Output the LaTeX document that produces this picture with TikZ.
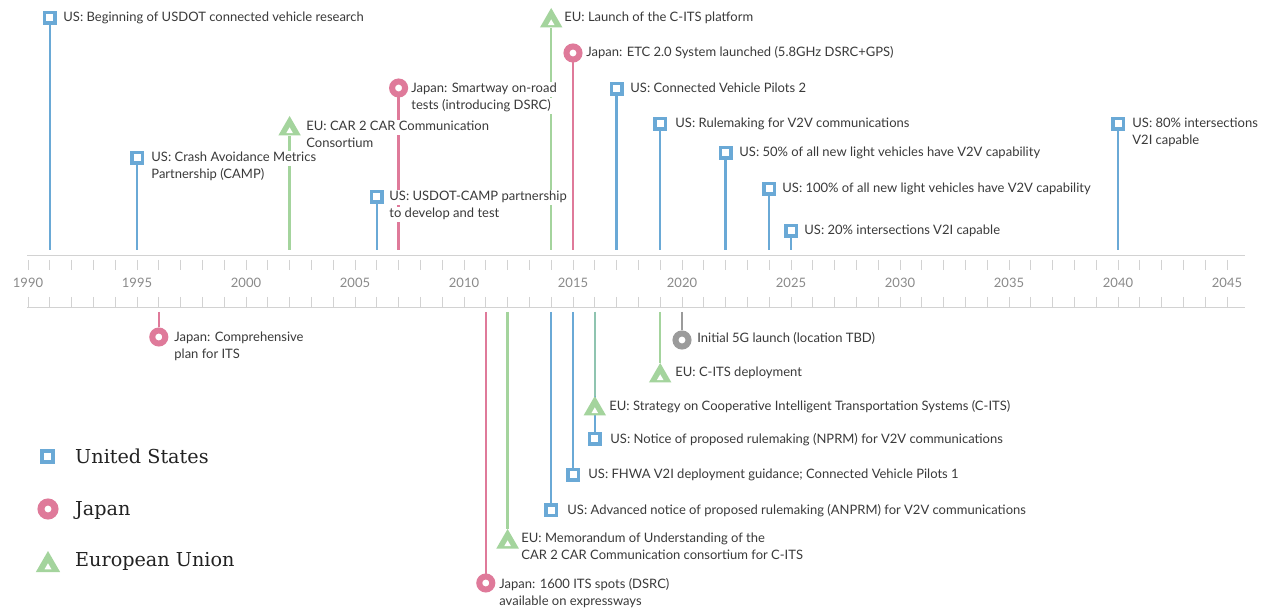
\documentclass[tikz,border=0pt]{standalone}
\usepackage{fontspec}
\setmainfont{Lato}
\newfontfamily\legendfont{DejaVu Serif}
\usetikzlibrary{shapes.geometric}
\pgfdeclarelayer{background}
\pgfdeclarelayer{paper}
\pgfsetlayers{paper,background,main}
\definecolor{usblue}{HTML}{6AA9D6}
\definecolor{jppink}{HTML}{DF7A9A}
\definecolor{eugreen}{HTML}{A4D49D}
\definecolor{fivegray}{HTML}{9B9B9B}
\definecolor{axisgray}{HTML}{D2D2D2}
\definecolor{yeargray}{HTML}{8A8A8A}
\definecolor{txt}{HTML}{3A3A3A}
\definecolor{legtxt}{HTML}{222222}
\newcommand\hl[1]{{\setlength\fboxsep{1.2pt}\colorbox{white}{\rule[-3.5pt]{0pt}{11pt}#1}}}
\tikzset{
  usmark/.style={rectangle, draw=usblue, line width=3.5pt, minimum size=10.5pt, inner sep=0pt, fill=white},
  jpmark/.style={circle, draw=jppink, line width=6pt, minimum size=13pt, inner sep=0pt, fill=white},
  gymark/.style={jpmark, draw=fivegray},
  eumark/.style={regular polygon, regular polygon sides=3, fill=eugreen, minimum size=26pt, inner sep=0pt,
    path picture={\fill[white] ([yshift=-5.4pt]path picture bounding box.center) +(0pt,3.8pt) -- +(-3.3pt,-1.9pt) -- +(3.3pt,-1.9pt) -- cycle;}},
  stem/.style={line width=2.5pt},
  lbl/.style={anchor=north west, inner sep=0pt, align=left, text=txt, font=\fontsize{13}{17}\selectfont},
  yr/.style={anchor=base, text=yeargray, font=\fontsize{13}{15}\selectfont},
  axline/.style={draw=axisgray, line width=1pt},
  leg/.style={anchor=base west, inner sep=0pt, text=legtxt, font=\legendfont\fontsize{19.2}{22}\selectfont},
}
\begin{document}
\begin{tikzpicture}[x=1pt,y=-1pt]
\begin{pgfonlayer}{paper}
\fill[white] (0,0) rectangle (1267,609);
\end{pgfonlayer}
\useasboundingbox (0,0) rectangle (1267,609);

% axis
\coordinate (axL) at (27,256);
\coordinate (axR) at (1245,256);
\coordinate (bxL) at (27,308);
\coordinate (bxR) at (1245,308);
\draw[axline] (axL) -- (axR);
\draw[axline] (bxL) -- (bxR);
\foreach \i in {0,...,55} {
  \draw[axisgray, line width=0.9pt] ({28+\i*21.8},260) -- ({28+\i*21.8},270);
  \draw[axisgray, line width=0.9pt] ({28+\i*21.8},297) -- ({28+\i*21.8},307);
}
\foreach \y [count=\k from 0] in {1990,1995,2000,2005,2010,2015,2020,2025,2030,2035,2040,2045}
  \node[yr] (yr\y) at ({28+\k*109},288) {\y};

% upper markers
\node[usmark] (u91) at (49.8,18) {};
\node[usmark] (u95) at (137,158) {};
\node[eumark] (e02) at (289.6,129) {};
\node[usmark] (u06) at (376.8,197) {};
\node[jpmark] (j07) at (398.6,88) {};
\node[eumark] (e14) at (551.2,21) {};
\node[jpmark] (j15) at (573,53) {};
\node[usmark] (u17) at (616.6,89) {};
\node[usmark] (u19) at (660.2,124) {};
\node[usmark] (u22) at (725.6,153) {};
\node[usmark] (u24) at (769.2,189) {};
\node[usmark] (u25) at (791,231) {};
\node[usmark] (u40) at (1118,124) {};

% lower markers
\node[jpmark] (j96) at (158.8,337) {};
\node[jpmark] (j11) at (485.8,583) {};
\node[eumark] (e12) at (507.6,542) {};
\node[usmark] (u14) at (551.2,510) {};
\node[usmark] (u15) at (573,475) {};
\node[usmark] (u16) at (594.8,439) {};
\node[eumark] (e16) at (594.8,409) {};
\node[eumark] (e19) at (660.2,376) {};
\node[gymark] (g20) at (682,340) {};

% stem ends
\foreach \n/\x in {u91/49.8,u95/137,e02/289.6,u06/376.8,j07/398.6,e14/551.2,j15/573,u17/616.6,u19/660.2,u22/725.6,u24/769.2,u25/791,u40/1118}
  \coordinate (\n a) at (\x,250);
\foreach \n/\x in {j96/158.8,j11/485.8,e12/507.6,u14/551.2,u15/573,u16/594.8,e16/594.8,e19/660.2,g20/682}
  \coordinate (\n a) at (\x,312);

\begin{pgfonlayer}{background}
\foreach \n in {u91,u95,u06,u17,u19,u22,u24,u25,u40,u14,u15,u16}
  \draw[stem, usblue] (\n a) -- (\n);
\foreach \n in {j07,j15,j96,j11}
  \draw[stem, jppink] (\n a) -- (\n);
\foreach \n in {e02,e14,e12,e19}
  \draw[stem, eugreen] (\n a) -- (\n);
\draw[stem, eugreen, opacity=0.65] (e16a) -- (e16);
\draw[stem, fivegray] (g20a) -- (g20);
\end{pgfonlayer}

% labels (upper)
\node[lbl] (l91) at (62,10.5) {\hl{US: Beginning of USDOT connected vehicle research}};
\node[lbl] (l95) at (150,150.5) {\hl{US: Crash Avoidance Metrics}\\\hl{Partnership (CAMP)}};
\node[lbl] (l02) at (305,119.5) {\hl{EU: CAR 2 CAR Communication}\\\hl{Consortium}};
\node[lbl] (l06) at (388,189.5) {\hl{US: USDOT-CAMP partnership}\\\hl{to develop and test}};
\node[lbl] (l07) at (410,81.5) {\hl{Japan: Smartway on-road}\\\hl{tests (introducing DSRC)}};
\node[lbl] (l14) at (563,10.5) {\hl{EU: Launch of the C-ITS platform}};
\node[lbl] (l15) at (585,45.5) {\hl{Japan: ETC 2.0 System launched (5.8GHz DSRC+GPS)}};
\node[lbl] (l17) at (629,81.5) {\hl{US: Connected Vehicle Pilots 2}};
\node[lbl] (l19) at (674,116.5) {\hl{US: Rulemaking for V2V communications}};
\node[lbl] (l22) at (738,145.5) {\hl{US: 50\% of all new light vehicles have V2V capability}};
\node[lbl] (l24) at (781,181.5) {\hl{US: 100\% of all new light vehicles have V2V capability}};
\node[lbl] (l25) at (803,223.5) {\hl{US: 20\% intersections V2I capable}};
\node[lbl] (l40) at (1131,116.5) {\hl{US: 80\% intersections}\\\hl{V2I capable}};

% labels (lower)
\node[lbl] (l96) at (173,330.5) {\hl{Japan: Comprehensive}\\\hl{plan for ITS}};
\node[lbl] (l11) at (498,577.5) {\hl{Japan: 1600 ITS spots (DSRC)}\\\hl{available on expressways}};
\node[lbl] (l12) at (520,531.5) {\hl{EU: Memorandum of Understanding of the}\\\hl{CAR 2 CAR Communication consortium for C-ITS}};
\node[lbl] (l14b) at (566,503.5) {\hl{US: Advanced notice of proposed rulemaking (ANPRM) for V2V communications}};
\node[lbl] (l15b) at (587,467.5) {\hl{US: FHWA V2I deployment guidance; Connected Vehicle Pilots 1}};
\node[lbl] (l16b) at (609,432.5) {\hl{US: Notice of proposed rulemaking (NPRM) for V2V communications}};
\node[lbl] (l16e) at (608,399.5) {\hl{EU: Strategy on Cooperative Intelligent Transportation Systems (C-ITS)}};
\node[lbl] (l19b) at (674,365.5) {\hl{EU: C-ITS deployment}};
\node[lbl] (l20) at (696,331.5) {\hl{Initial 5G launch (location TBD)}};

% legend
\node[usmark, line width=4pt, minimum size=11pt] (legus) at (47.5,456.5) {};
\node[jpmark, line width=7pt, minimum size=14pt] (legjp) at (48,509) {};
\node[eumark, minimum size=28pt, path picture={\fill[white] ([yshift=-5.8pt]path picture bounding box.center) +(0pt,4pt) -- +(-3.5pt,-2pt) -- +(3.5pt,-2pt) -- cycle;}] (legeu) at (48,565) {};
\node[leg] (legust) at (75,464) {United States};
\node[leg] (legjpt) at (75,515.5) {Japan};
\node[leg] (legeut) at (75,566.5) {European Union};
\end{tikzpicture}
\end{document}
